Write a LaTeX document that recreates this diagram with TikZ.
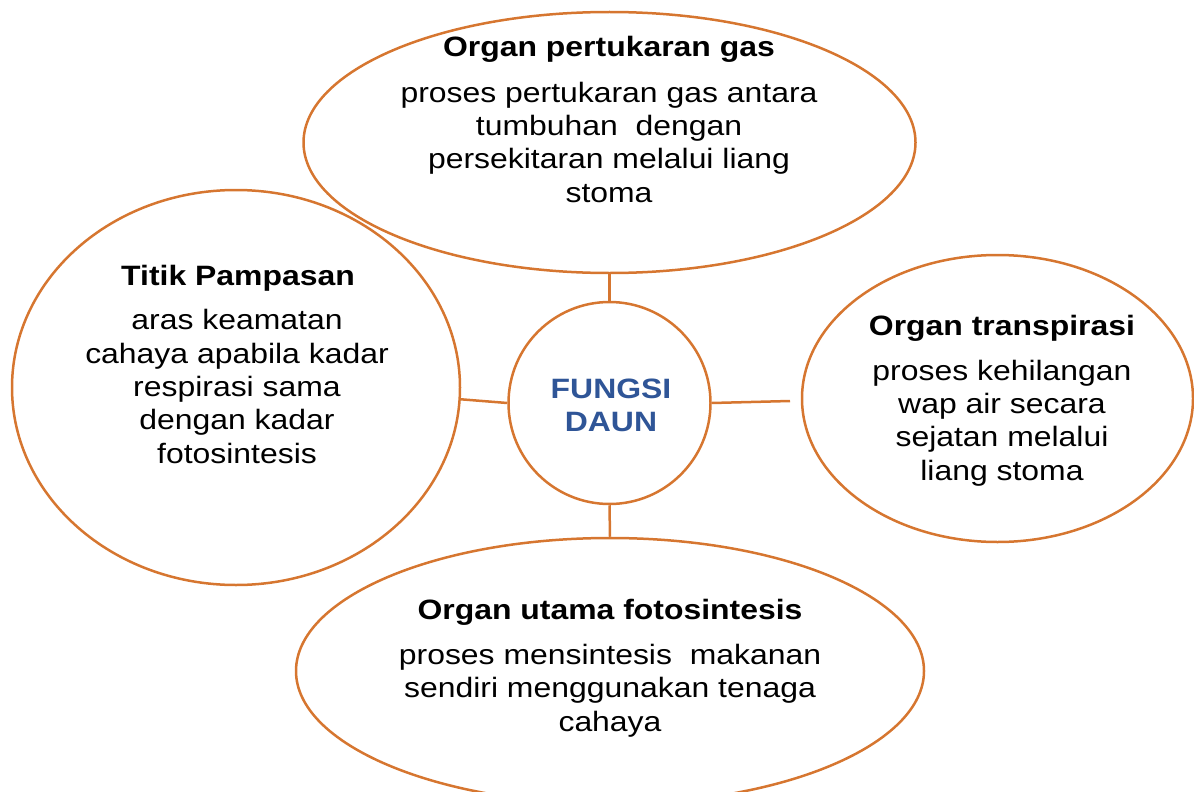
\documentclass[tikz,border=0pt]{standalone}
\usepackage{fontspec}
\setmainfont{Liberation Sans}[FakeStretch=1.14]
\usetikzlibrary{shapes.geometric}
\definecolor{org}{RGB}{214,118,48}
\definecolor{dblue}{RGB}{47,85,151}
\begin{document}
\begin{tikzpicture}[x=1pt,y=-1pt,
  bub/.style={ellipse, draw=org, line width=2.5pt, inner sep=0pt, fill=none},
  conn/.style={draw=org, line width=2.5pt},
  ttl/.style={font=\fontsize{28}{33.3}\selectfont\bfseries, anchor=base, inner sep=0pt},
  txt/.style={font=\fontsize{28}{33.3}\selectfont, align=center, anchor=base, inner sep=0pt}]
\useasboundingbox (0,0) rectangle (1194,792);
\clip (0,0) rectangle (1194,792);
\node[bub, minimum width=612pt, minimum height=261pt] (gas) at (609.5,142.5) {};
\node[bub, minimum width=448pt, minimum height=395pt] (pamp) at (236,387.5) {};
\node[bub, minimum width=391pt, minimum height=287pt] (trans) at (997.5,398.5) {};
\node[bub, minimum width=628pt, minimum height=266pt] (foto) at (610,671) {};
\node[circle, draw=org, line width=2.5pt, minimum size=202pt, inner sep=0pt] (fd) at (609.5,403) {};
\coordinate (tend) at (790,401);
\draw[conn] (gas.south) -- (fd.north);
\draw[conn] (fd.south) -- (foto.north);
\draw[conn] (pamp.-3) -- (fd.west);
\draw[conn] (fd.east) -- (tend);
% texts
\node[ttl] (t1) at (609,57) {Organ pertukaran gas};
\node[txt] (b1) at (609,202) {proses pertukaran gas antara\\tumbuhan\ \ dengan\\persekitaran melalui liang\\stoma};
\node[ttl] (t2) at (238,285) {Titik Pampasan};
\node[txt] (b2) at (237,463) {aras keamatan\\cahaya apabila kadar\\respirasi sama\\dengan kadar\\fotosintesis};
\node[ttl] (t3) at (1002,335) {Organ transpirasi};
\node[txt] (b3) at (1002,480) {proses kehilangan\\wap air secara\\sejatan melalui\\liang stoma};
\node[ttl] (t4) at (610,619) {Organ utama fotosintesis};
\node[txt] (b4) at (610,731) {proses mensintesis\ \ makanan\\sendiri menggunakan tenaga\\cahaya};
\node[txt, font=\fontsize{28}{33}\selectfont\bfseries, text=dblue] (c) at (611,431) {FUNGSI\\DAUN};
\end{tikzpicture}
\end{document}
